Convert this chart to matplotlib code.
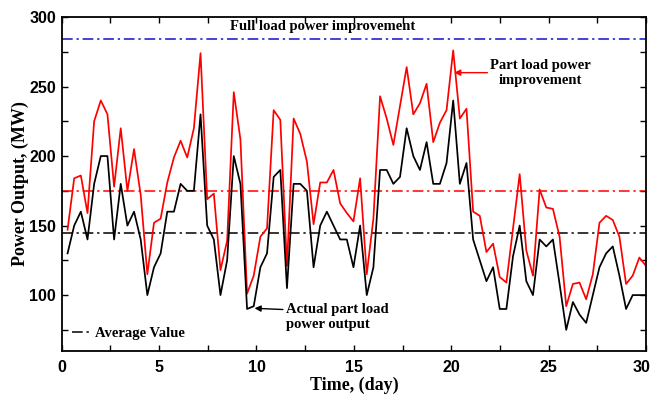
import numpy as np
import matplotlib
matplotlib.use("Agg")
import matplotlib.pyplot as plt
import matplotlib.transforms as mtransforms
from matplotlib.ticker import MultipleLocator

# Sampled power output over the month (MW)
actual_output = [
    130, 150, 160, 140, 180, 200, 200, 140, 180, 150, 160, 140, 100, 120, 130,
    160, 160, 180, 175, 175, 230, 150, 140, 100, 125, 200, 180, 90, 92, 120,
    130, 185, 190, 105, 180, 180, 175, 120, 150, 160, 150, 140, 140, 120, 150,
    100, 120, 190, 190, 180, 185, 220, 200, 190, 210, 180, 180, 195, 240, 180,
    195, 140, 125, 110, 120, 90, 90, 128, 150, 110, 100, 140, 135, 140, 108,
    75, 95, 86, 80, 100, 120, 130, 135, 114, 90, 100, 100, 100,
]
part_load_improved = [
    147, 184, 186, 159, 225, 240, 230, 178, 220, 175, 205, 172, 115, 152, 155,
    181, 199, 211, 199, 220, 274, 169, 173, 118, 139, 246, 212, 101, 114, 142,
    148, 233, 226, 121, 227, 216, 196, 151, 181, 181, 190, 166, 159, 153, 184,
    115, 155, 243, 227, 208, 236, 264, 230, 238, 252, 210, 224, 233, 276, 227,
    234, 160, 157, 131, 137, 113, 109, 148, 187, 132, 114, 176, 163, 162, 142,
    92, 108, 109, 97, 115, 152, 157, 154, 142, 108, 114, 127, 121,
]
# Sample times (days), evenly spaced through the month
time_days = np.linspace(0.3, 30, len(actual_output))

x_ticks = [0, 5, 10, 15, 20, 25, 30]
y_ticks = [100, 150, 200, 250, 300]

full_load_level = 284
avg_actual = 145
avg_improved = 175

serif = ["Liberation Serif", "DejaVu Serif"]
sans = ["Liberation Sans", "DejaVu Sans"]

fig = plt.figure(figsize=(6.53, 3.96), dpi=100)
ax = fig.add_axes([0.0945, 0.1144, 0.8948, 0.8426])

dashdot = (0, (7, 2.5, 1.5, 2.5))
ax.axhline(full_load_level, color="#1010d0", lw=1.1, ls=dashdot)
ax.axhline(avg_improved, color="#ff0000", lw=1.1, ls=dashdot)
avg_line = ax.axhline(avg_actual, color="black", lw=1.1, ls=dashdot,
                      label="Average Value")

ax.plot(time_days, part_load_improved, color="#ff0000", lw=1.25)
ax.plot(time_days, actual_output, color="black", lw=1.25)

ax.set_xlim(0, 30)
ax.set_ylim(60, 300)
ax.set_xticks(x_ticks)
ax.set_yticks(y_ticks)
ax.xaxis.set_minor_locator(MultipleLocator(2.5))
ax.yaxis.set_minor_locator(MultipleLocator(25))
ax.tick_params(which="both", direction="in", top=True, right=True,
               length=4, width=1)
ax.tick_params(axis="x", pad=7)
ax.tick_params(axis="y", pad=4)
for lab in ax.get_xticklabels() + ax.get_yticklabels():
    lab.set_family(sans)
    lab.set_fontweight("bold")
    lab.set_fontsize(11.5)
for sp in ax.spines.values():
    sp.set_linewidth(1.3)

# keep the last x tick label inside the figure edge
last_lab = ax.xaxis.get_major_ticks()[-1].label1
last_lab.set_transform(last_lab.get_transform() +
                       mtransforms.ScaledTranslation(-4 / 100, 0,
                                                     fig.dpi_scale_trans))

ax.set_xlabel("Time, (day)", family=serif, fontweight="bold", fontsize=13,
              labelpad=1)
ax.set_ylabel("Power Output, (MW)", family=serif, fontweight="bold",
              fontsize=13, labelpad=0)

ax.text(13.4, 293, "Full load power improvement", family=serif,
        fontweight="bold", fontsize=10.5, ha="center", va="center")

ax.annotate("Part load power\nimprovement", xy=(20.15, 260), xytext=(22.0, 260),
            family=serif, fontweight="bold", fontsize=10.5, ha="left",
            va="center", multialignment="center",
            arrowprops=dict(arrowstyle="-|>", color="#ff0000", lw=1,
                            mutation_scale=9, shrinkA=0, shrinkB=0))

ax.annotate("Actual part load\npower output", xy=(9.9, 90.5), xytext=(11.5, 84.5),
            family=serif, fontweight="bold", fontsize=10.5, ha="left",
            va="center", multialignment="left",
            arrowprops=dict(arrowstyle="-|>", color="black", lw=1,
                            mutation_scale=9, shrinkA=0, shrinkB=0,
                            relpos=(0, 0.75)))

ax.legend(handles=[avg_line], loc="lower left", frameon=False,
          prop=dict(family=serif, weight="bold", size=10.5),
          handlelength=1.2, handletextpad=0.4,
          bbox_to_anchor=(0.0, 0.0), borderaxespad=0.3)

fig.savefig("out.png", dpi=100)
